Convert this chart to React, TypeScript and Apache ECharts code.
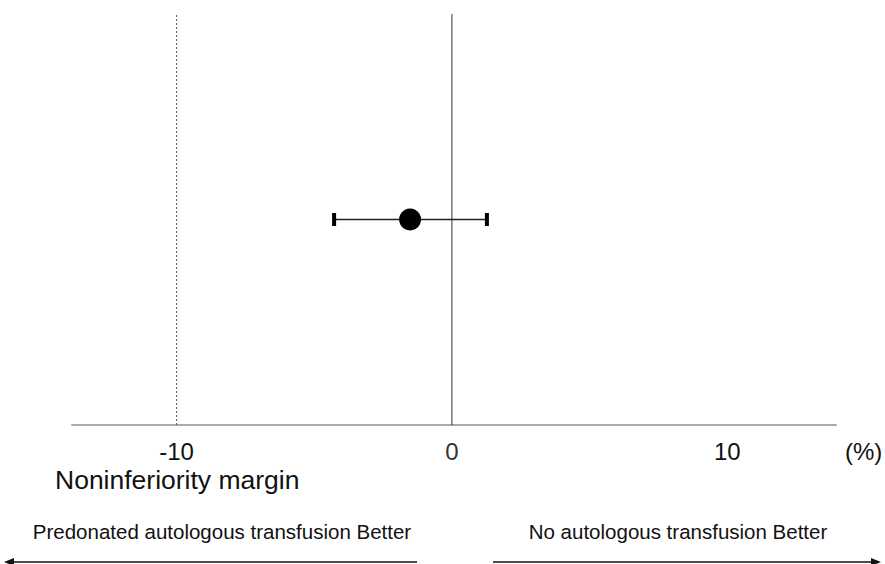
import React, { useEffect, useRef } from "react";
import * as echarts from "echarts";

const tickValues = [-10, 0, 10];
const estimate = [-1.52];
const ciBounds = [-4.28, 1.27];
const marginValue = [-10];
const refValue = [0];
const axisRange = [-13.8, 13.95];
const rowY = [1];
const yRange = [0, 2];

const FONT = "Liberation Sans, Arial, Helvetica, sans-serif";

export default function App() {
  const ref = useRef<HTMLDivElement>(null);
  useEffect(() => {
    if (!ref.current) return;
    const chart = echarts.init(ref.current, undefined, { renderer: "svg" });
    const arrowY = 562;
    chart.setOption({
      animation: false,
      backgroundColor: "#ffffff",
      grid: { left: 72, right: 49, top: 14, bottom: 139 },
      xAxis: {
        type: "value",
        min: axisRange[0],
        max: axisRange[1],
        splitLine: { show: false },
        axisLine: { show: true, lineStyle: { color: "#aaaaaa", width: 2 } },
        axisTick: { show: false },
        axisLabel: {
          customValues: tickValues,
          margin: 14,
          fontFamily: FONT,
          fontSize: 24,
          color: (v: any) => (Number(v) === 0 ? "#333333" : "#111111"),
        },
      },
      yAxis: {
        type: "value",
        min: yRange[0],
        max: yRange[1],
        show: false,
      },
      series: [
        {
          type: "line",
          data: [
            [marginValue[0], yRange[0]],
            [marginValue[0], yRange[1]],
          ],
          symbol: "none",
          lineStyle: { color: "#555555", width: 1, type: [2, 2] },
          silent: true,
        },
        {
          type: "line",
          data: [
            [refValue[0], yRange[0]],
            [refValue[0], yRange[1]],
          ],
          symbol: "none",
          lineStyle: { color: "#333333", width: 1 },
          silent: true,
        },
        {
          type: "line",
          data: [
            [ciBounds[0], rowY[0]],
            [ciBounds[1], rowY[0]],
          ],
          symbol: "rect",
          symbolSize: [4, 13],
          itemStyle: { color: "#000000" },
          lineStyle: { color: "#222222", width: 1.3 },
          z: 3,
        },
        {
          type: "scatter",
          data: [[estimate[0], rowY[0]]],
          symbol: "circle",
          symbolSize: 22,
          itemStyle: { color: "#000000", opacity: 1 },
          z: 4,
        },
      ],
      graphic: [
        {
          type: "text",
          left: 845,
          top: 439,
          style: { text: "(%)", fontSize: 24, fill: "#111111", fontFamily: FONT },
        },
        {
          type: "text",
          left: 55,
          top: 466,
          style: { text: "Noninferiority margin", fontSize: 26.5, fill: "#111111", fontFamily: FONT },
        },
        {
          type: "text",
          x: 222,
          y: 531,
          style: {
            text: "Predonated autologous transfusion Better",
            fontSize: 20.5,
            fill: "#111111",
            fontFamily: FONT,
            align: "center",
            verticalAlign: "middle",
          },
        },
        {
          type: "text",
          x: 678,
          y: 531,
          style: {
            text: "No autologous transfusion Better",
            fontSize: 20.5,
            fill: "#111111",
            fontFamily: FONT,
            align: "center",
            verticalAlign: "middle",
          },
        },
        {
          type: "line",
          shape: { x1: 417, y1: arrowY, x2: 12, y2: arrowY },
          style: { stroke: "#111111", lineWidth: 1.5 },
        },
        {
          type: "polygon",
          shape: { points: [[4, arrowY], [14, arrowY - 4], [14, arrowY + 4]] },
          style: { fill: "#111111" },
        },
        {
          type: "line",
          shape: { x1: 493, y1: arrowY, x2: 873, y2: arrowY },
          style: { stroke: "#111111", lineWidth: 1.5 },
        },
        {
          type: "polygon",
          shape: { points: [[881, arrowY], [871, arrowY - 4], [871, arrowY + 4]] },
          style: { fill: "#111111" },
        },
      ],
    });
    return () => chart.dispose();
  }, []);
  return (
    <div
      ref={ref}
      style={{ position: "fixed", left: 0, top: 0, width: 885, height: 564 }}
    />
  );
}
